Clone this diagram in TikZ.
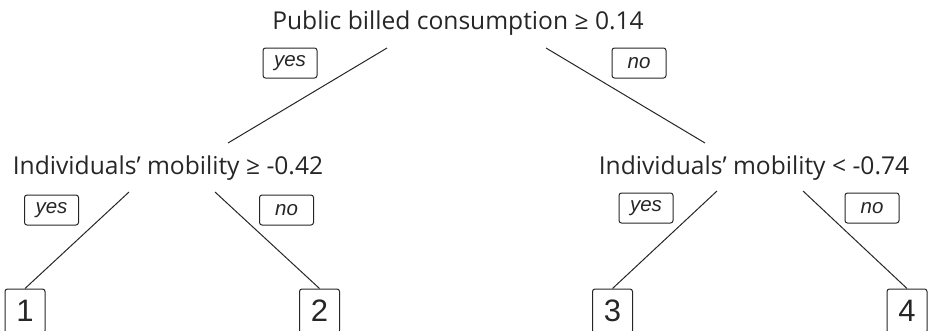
\documentclass[tikz,border=0pt]{standalone}
\usepackage{fontspec}
\setmainfont{Open Sans}
\newfontfamily\labelfont{Liberation Sans}
\begin{document}
\begin{tikzpicture}[x=1pt,y=-1pt,
  split/.style={font=\fontsize{24.6}{28}\selectfont, inner sep=0pt, text=black!85},
  answer/.style={draw=black!85, rounded corners=2.5pt, line width=1pt, minimum width=54pt, minimum height=30pt, inner sep=0pt, font=\labelfont\itshape\fontsize{20.5}{24}\selectfont, text=black!85},
  leaf/.style={draw=black!85, rounded corners=2.5pt, line width=1pt, minimum width=40pt, minimum height=44pt, inner sep=0pt, font=\labelfont\fontsize{31}{35}\selectfont, text=black!85},
  branch/.style={line width=1pt, draw=black!85}]
\useasboundingbox (0,0) rectangle (928,330);

%root
\node[split] (root) at (458,23) {Public billed consumption ≥ 0.14};
\coordinate (rootyes) at (387,48);
\coordinate (rootno) at (546,48);

%left split
\node[split] (left) at (168,168) {Individuals’ mobility ≥ -0.42};
\coordinate (lefttop) at (228,143);
\coordinate (leftyes) at (129,192);
\coordinate (leftno) at (215,192);

%right split
\node[split] (right) at (754,168) {Individuals’ mobility < -0.74};
\coordinate (righttop) at (705,143);
\coordinate (rightyes) at (717,191);
\coordinate (rightno) at (803,191);

%leaves
\node[leaf] (leaf1) at (25,311) {1};
\node[leaf] (leaf2) at (319.5,311) {2};
\node[leaf] (leaf3) at (612.5,311) {3};
\node[leaf] (leaf4) at (907,311) {4};

%branches
\draw[branch] (rootyes) -- (lefttop);
\draw[branch] (rootno) -- (righttop);
\draw[branch] (leftyes) -- (leaf1.north);
\draw[branch] (leftno) -- (leaf2.north);
\draw[branch] (rightyes) -- (leaf3.north);
\draw[branch] (rightno) -- (leaf4.north);

%answers
\node[answer] (ans1) at (290,63) {yes};
\node[answer] (ans2) at (639,63) {no};
\node[answer] (ans3) at (51.5,210) {yes};
\node[answer] (ans4) at (286.5,210) {no};
\node[answer] (ans5) at (646,208) {yes};
\node[answer] (ans6) at (872,208) {no};

\end{tikzpicture}
\end{document}
